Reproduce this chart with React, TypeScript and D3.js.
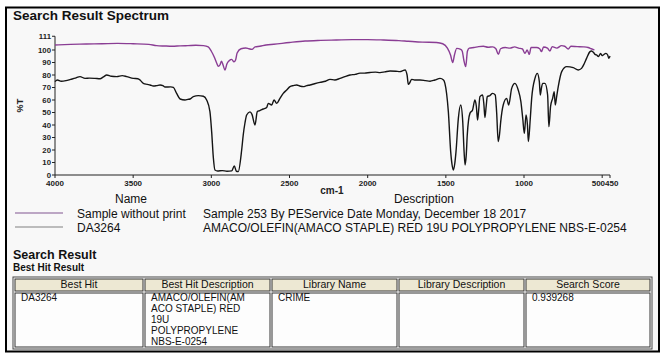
import React from "react";
import * as d3 from "d3";

const W = 664;
const H = 356;
const FONT = "'Liberation Sans', Arial, Helvetica, sans-serif";

// Sample spectrum (%T vs wavenumber, cm-1)
const sampleWavenumbers = [
  4000, 3900, 3800, 3700, 3600, 3500, 3400, 3350, 3300, 3250, 3200, 3150, 3100, 3050, 3020, 3000,
  2980, 2966, 2955, 2945, 2935, 2925, 2913, 2900, 2885, 2870, 2855, 2845, 2835, 2810, 2780, 2760,
  2740, 2720, 2690, 2650, 2600, 2500, 2400, 2300, 2200, 2100, 2000, 1900, 1800, 1740, 1650, 1560,
  1520, 1490, 1470, 1456, 1445, 1430, 1405, 1395, 1385, 1373, 1362, 1350, 1320, 1290, 1260, 1230,
  1200, 1180, 1164, 1150, 1120, 1090, 1060, 1035, 1010, 994, 980, 966, 955, 920, 900, 888, 875,
  850, 834, 820, 790, 760, 740, 717, 700, 660, 620, 590, 570, 550,
];
const sampleTransmittance = [
  104, 104.5, 104.8, 105, 105.3, 105, 104.5, 103.5, 103.2, 103, 103.3, 103.5, 103.8, 103.5, 102.5, 99,
  94, 89.6, 87, 88, 91, 88, 84, 89, 91.5, 92.5, 90.5, 92, 97.6, 101, 101.6, 101,
  100.5, 102.5, 103, 104, 104.6, 106, 107.2, 107.7, 108, 108.3, 108.3, 108, 107.5, 107, 106.3, 106,
  105, 101.5, 96, 90, 96, 101.3, 100.5, 99, 92, 86.7, 99, 101.5, 102, 102.7, 103, 102.2,
  102.5, 101, 96.5, 101, 102, 101.5, 102.5, 101.5, 100.8, 97.3, 100, 96.5, 102, 102, 101, 98.7, 102.4,
  101.5, 99.2, 102.7, 101.5, 103.5, 103, 100.8, 103, 102.7, 102.5, 102, 101, 100,
];

// Library reference spectrum DA3264
const referenceWavenumbers = [
  4000, 3985, 3960, 3930, 3900, 3870, 3840, 3808, 3780, 3744, 3712, 3690, 3669, 3640, 3605, 3570,
  3541, 3499, 3470, 3456, 3435, 3410, 3392, 3371, 3350, 3328, 3310, 3296, 3260, 3243, 3222, 3200,
  3168, 3150, 3136, 3115, 3083, 3051, 3030, 3009, 2998, 2987, 2977, 2960, 2930, 2900, 2870, 2853,
  2840, 2828, 2806, 2796, 2785, 2774, 2753, 2740, 2721, 2706, 2690, 2668, 2646, 2636, 2614, 2599,
  2582, 2561, 2540, 2518, 2497, 2475, 2454, 2430, 2412, 2390, 2369, 2340, 2305, 2270, 2241, 2210,
  2177, 2150, 2113, 2080, 2049, 2020, 1985, 1950, 1921, 1890, 1857, 1820, 1793, 1775, 1761, 1748,
  1740, 1730, 1719, 1700, 1687, 1665, 1630, 1601, 1570, 1537, 1515, 1506, 1495, 1484, 1469, 1460,
  1452, 1443, 1435, 1420, 1405, 1392, 1383, 1377, 1370, 1363, 1346, 1329, 1314, 1305, 1297, 1290,
  1282, 1265, 1257, 1250, 1242, 1235, 1218, 1201, 1184, 1175, 1165, 1157, 1149, 1133, 1111, 1098,
  1079, 1058, 1037, 1020, 1008, 998, 987, 978, 972, 960, 951, 930, 915, 902, 896, 888, 881, 866,
  849, 841, 830, 817, 807, 800, 792, 781, 759, 727, 685, 653, 632, 615, 600, 578, 568, 555, 546,
  535, 524, 510, 500, 493, 476, 465, 457, 450,
];
const referenceTransmittance = [
  74.7, 76, 75, 75.5, 76.5, 77.5, 78.7, 77.3, 77.5, 77.3, 77, 78.5, 80, 79, 78.7, 79.5,
  78.7, 77.3, 77, 76, 73.3, 72.5, 72, 71.2, 71.5, 72, 71.5, 70.4, 70.5, 70.1, 65.3, 60.8,
  60, 60.5, 60.8, 62.7, 63.5, 63, 60, 50.7, 34.7, 13.6, 4, 3.2, 3.5, 3, 3.3, 7.2,
  3, 2.7, 20, 32, 41.6, 48, 50.5, 48.5, 40, 50.7, 51.5, 52.8, 54, 57.3, 56, 60,
  57.3, 61.3, 65.3, 68, 70.7, 71.5, 72, 71, 70.7, 71.5, 72, 73, 74.1, 75, 76.5, 76,
  77.3, 78.5, 80, 80.5, 81.5, 81.5, 82, 82.3, 81.9, 82.5, 83.2, 83, 82.7, 83.5, 84, 80,
  72.5, 74, 76.5, 76, 76, 76, 75.5, 75, 76, 77.3, 76, 73.3, 65, 50.7, 18.7, 8,
  4, 9, 18.7, 45.3, 56, 42.7, 18, 8, 15, 32, 49.3, 52, 60, 55, 44, 52,
  62.7, 64, 57, 45.9, 55, 62.7, 63.5, 65.3, 64, 50, 26.7, 32, 42.7, 56, 61.3, 56,
  69.3, 73.3, 68, 58.7, 45, 33.3, 48, 40, 26.7, 45, 61.3, 77.3, 81.3, 74.7, 64, 70, 73.3, 73.3,
  64, 38.7, 55, 61.3, 66.7, 56, 62, 70.7, 82.7, 86.7, 85.9, 84, 85.3, 89, 93.3, 98.7, 99.2, 98, 96.5,
  96, 94.7, 97.3, 95.5, 96, 97.3, 96, 93.3, 95.2,
];

const yTicks = [0, 10, 20, 30, 40, 50, 60, 70, 80, 90, 100, 111];
const xTicks = [4000, 3500, 3000, 2500, 2000, 1500, 1000, 500, 450];

const legendNames = ["Sample without print", "DA3264"];
const legendDescriptions = [
  "Sample 253 By PEService Date Monday, December 18 2017",
  "AMACO/OLEFIN(AMACO STAPLE) RED 19U POLYPROPYLENE NBS-E-0254",
];
const legendColors = ["#a98bb3", "#a8a8a8"];

const tableHeaders = ["Best Hit", "Best Hit Description", "Library Name", "Library Description", "Search Score"];
const tableRow: string[][] = [
  ["DA3264"],
  ["AMACO/OLEFIN(AM", "ACO STAPLE) RED", "19U", "POLYPROPYLENE", "NBS-E-0254"],
  ["CRIME"],
  [],
  ["0.939268"],
];
const columnEdges = [13, 143, 270, 397, 524, 652];

export default function App() {
  const x = d3.scaleLinear().domain([4000, 450]).range([55, 610]);
  const y = d3.scaleLinear().domain([0, 100]).range([175, 50]);

  const line = d3
    .line<[number, number]>()
    .x((d) => x(d[0]))
    .y((d) => y(d[1]))
    .curve(d3.curveMonotoneX);

  const samplePath = line(sampleWavenumbers.map((w, i) => [w, sampleTransmittance[i]] as [number, number])) || "";
  const refPath = line(referenceWavenumbers.map((w, i) => [w, referenceTransmittance[i]] as [number, number])) || "";

  const x0 = x(4000);
  const xEnd = x(450);
  const mid = (x(500) + x(450)) / 2;

  const tableTop = 277;
  const headerBottom = 291;
  const tableBottom = 349;

  return (
    <div style={{ position: "fixed", left: 0, top: 0 }}>
      <svg width={W} height={H} style={{ display: "block", fontFamily: FONT }}>
        <rect x={0} y={0} width={W} height={H} fill="#ffffff" />
        <rect x={6} y={7.5} width={653} height={344} fill="#f8f8f8" stroke="#000" strokeWidth={2} />
        <text x={13} y={20} fontSize={13.5} fontWeight="bold" fill="#111">
          Search Result Spectrum
        </text>

        {/* axes */}
        <line x1={x0} x2={x0} y1={y(111)} y2={y(0)} stroke="#222" strokeWidth={1} />
        <line x1={x0} x2={xEnd} y1={y(0)} y2={y(0)} stroke="#222" strokeWidth={1} />
        {yTicks.map((t) => (
          <g key={"y" + t}>
            <line x1={x0 - 3} x2={x0} y1={y(t)} y2={y(t)} stroke="#222" />
            <text x={x0 - 4} y={y(t) + 2.8} fontSize={7.8} fontWeight="bold" textAnchor="end" fill="#222">
              {t}
            </text>
          </g>
        ))}
        {xTicks.map((t) => {
          let anchor: "middle" | "end" | "start" = "middle";
          let tx = x(t);
          if (t === 500) {
            anchor = "end";
            tx = mid - 1;
          } else if (t === 450) {
            anchor = "start";
            tx = mid - 1;
          }
          return (
            <g key={"x" + t}>
              <line x1={x(t)} x2={x(t)} y1={y(0)} y2={y(0) + 3} stroke="#222" />
              <text x={tx} y={y(0) + 11} fontSize={8} fontWeight="bold" textAnchor={anchor} fill="#222">
                {t}
              </text>
            </g>
          );
        })}
        <text
          transform={`translate(23,${(y(0) + y(111)) / 2}) rotate(-90)`}
          fontSize={9}
          fontWeight="bold"
          textAnchor="middle"
          fill="#222"
        >
          %T
        </text>
        <text x={332} y={193.5} fontSize={10} fontWeight="bold" textAnchor="middle" fill="#222">
          cm-1
        </text>

        {/* spectra */}
        <path d={refPath} fill="none" stroke="#151515" strokeWidth={1.4} strokeLinejoin="round" />
        <path d={samplePath} fill="none" stroke="#8a3d94" strokeWidth={1.4} strokeLinejoin="round" />

        {/* legend */}
        <text x={131} y={202.5} fontSize={12} textAnchor="middle" fill="#111">
          Name
        </text>
        <text x={424} y={202.5} fontSize={12} textAnchor="middle" fill="#111">
          Description
        </text>
        {legendNames.map((n, i) => (
          <g key={n}>
            <line x1={15} x2={63} y1={213 + i * 14} y2={213 + i * 14} stroke={legendColors[i]} strokeWidth={1.3} />
            <text x={77} y={217.5 + i * 14} fontSize={12} fill="#111">
              {n}
            </text>
            <text x={203} y={217.5 + i * 14} fontSize={12} fill="#111">
              {legendDescriptions[i]}
            </text>
          </g>
        ))}

        {/* search result table */}
        <text x={13} y={258.5} fontSize={12.5} fontWeight="bold" fill="#111">
          Search Result
        </text>
        <text x={13} y={270.5} fontSize={10} fontWeight="bold" fill="#111">
          Best Hit Result
        </text>
        <rect
          x={columnEdges[0]}
          y={tableTop}
          width={columnEdges[5] - columnEdges[0]}
          height={tableBottom - tableTop}
          fill="#ffffff"
          stroke="#444"
          strokeWidth={1}
        />
        {tableHeaders.map((h, i) => {
          const cx0 = columnEdges[i] + 2;
          const cx1 = columnEdges[i + 1] - (i === 4 ? 2 : 0);
          return (
            <g key={h}>
              <rect
                x={cx0}
                y={tableTop + 2}
                width={cx1 - cx0}
                height={headerBottom - tableTop - 2}
                fill="#ede8d3"
                stroke="#333"
                strokeWidth={1}
              />
              <rect
                x={cx0}
                y={headerBottom + 2}
                width={cx1 - cx0}
                height={tableBottom - headerBottom - 4}
                fill="#fdfdfd"
                stroke="#333"
                strokeWidth={1}
              />
              <text x={(cx0 + cx1) / 2} y={tableTop + 11} fontSize={10.5} textAnchor="middle" fill="#111">
                {h}
              </text>
              {tableRow[i].map((s, j) => (
                <text key={j} x={cx0 + 6} y={headerBottom + 10 + j * 11} fontSize={10} fill="#111">
                  {s}
                </text>
              ))}
            </g>
          );
        })}
      </svg>
    </div>
  );
}
